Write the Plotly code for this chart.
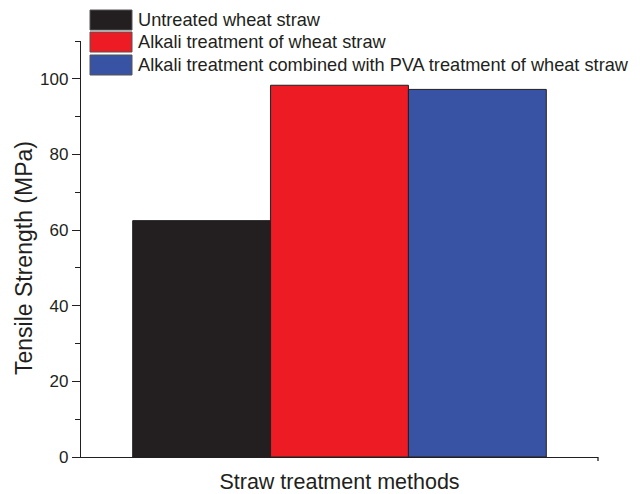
import plotly.graph_objects as go

series_names = [
    "Untreated wheat straw",
    "Alkali treatment of wheat straw",
    "Alkali treatment combined with PVA treatment of wheat straw",
]
tensile_strength = [62.5, 98.3, 97.2]
bar_colors = ["#231f20", "#ed1c24", "#3953a4"]
category = ["Straw treatment methods"]
y_ticks = [0, 20, 40, 60, 80, 100]
y_title = "Tensile Strength (MPa)"
x_title = "Straw treatment methods"

FONT = "Liberation Sans, Arial, sans-serif"
INK = "#231f20"

# page body adds an 8px offset; plot area spans page x 81..598, y 41..457
PW, PH = 517, 416

fig = go.Figure()
for name, val, col in zip(series_names, tensile_strength, bar_colors):
    fig.add_trace(go.Bar(
        x=category, y=[val], name=name,
        marker=dict(color=col, line=dict(color=INK, width=1)),
        showlegend=False,
    ))

# custom legend with large swatches (page coordinates converted to paper)
row_y = [20, 42, 65]
for name, col, ry in zip(series_names, bar_colors, row_y):
    fig.add_shape(type="rect", xref="paper", yref="paper",
                  x0=(90 - 81) / PW, x1=(132 - 81) / PW,
                  y0=(457 - (ry + 10)) / PH, y1=(457 - (ry - 10)) / PH,
                  fillcolor=col, line=dict(color="#555555", width=1))
    fig.add_annotation(xref="paper", yref="paper",
                       x=(136 - 81) / PW, y=(457 - ry) / PH,
                       xanchor="left", yanchor="middle", showarrow=False,
                       text=name, font=dict(family=FONT, size=18.2, color=INK))

# y axis title (rotated)
fig.add_annotation(xref="paper", yref="paper",
                   x=(24 - 81) / PW, y=(457 - 258) / PH,
                   xanchor="center", yanchor="middle", showarrow=False,
                   textangle=-90, text=y_title,
                   font=dict(family=FONT, size=23, color=INK))

# right-end tick of x axis
fig.add_shape(type="line", xref="paper", yref="paper",
              x0=1, x1=1, y0=0, y1=-4 / PH, line=dict(color=INK, width=1.3))

fig.update_layout(
    width=633, height=486,
    margin=dict(l=73, r=43, t=33, b=37),
    paper_bgcolor="white", plot_bgcolor="white",
    barmode="group", bargap=0.2, bargroupgap=0,
    font=dict(family=FONT, color=INK),
    xaxis=dict(showticklabels=False, ticks="", showline=True, linecolor=INK,
               linewidth=1.3, showgrid=False, zeroline=False,
               title=dict(text=x_title, font=dict(size=21.5), standoff=22)),
    yaxis=dict(range=[0, 110], tickvals=y_ticks, ticks="outside", ticklen=8,
               tickwidth=1.2, tickcolor=INK, showline=True, linecolor=INK,
               linewidth=1.3, showgrid=False, zeroline=False,
               tickfont=dict(size=17, color=INK),
               minor=dict(tickvals=[10, 30, 50, 70, 90, 110], ticks="outside",
                          ticklen=4.5, tickcolor=INK, tickwidth=1.2)),
)
fig.update_xaxes(automargin=False)
fig.update_yaxes(automargin=False)

fig.write_html("out.html")
